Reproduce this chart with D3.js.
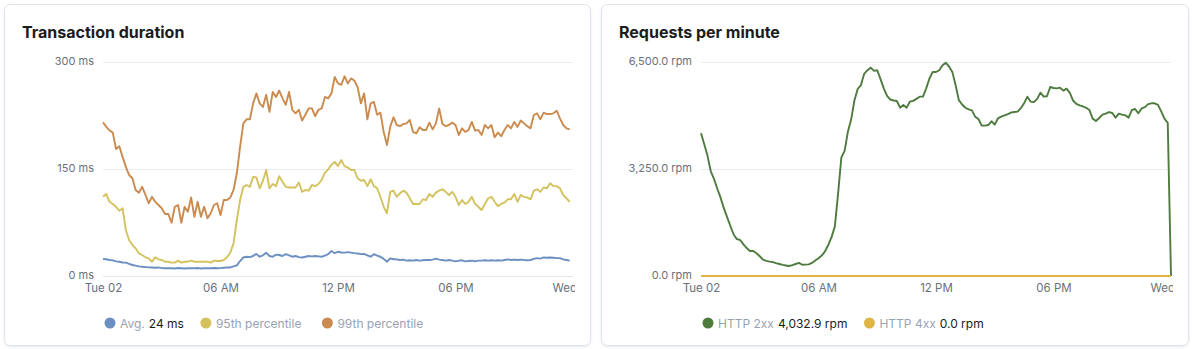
<!DOCTYPE html>
<html><head><meta charset="utf-8">
<script src="https://cdn.jsdelivr.net/npm/d3@7"></script>
<style>
html,body{margin:0;padding:0;background:#fff;}
svg{display:block;font-family:Inter,"Noto Sans",sans-serif;}
</style></head><body>
<svg id="c" width="1200" height="349"></svg>
<script>
// ---------- data ----------
const startTime = new Date(2020, 5, 2, 0, 0, 0);   // Tue 02
const endTime = new Date(2020, 5, 3, 0, 0, 0);     // Wed 03
const bucketMinutes = 10;
const xTickLabels = ["Tue 02", "06 AM", "12 PM", "06 PM", "Wed 03"];

const durationTicks = [0, 150, 300];
const durationTickLabels = ["0 ms", "150 ms", "300 ms"];
const rpmTicks = [0, 3250, 6500];
const rpmTickLabels = ["0.0 rpm", "3,250.0 rpm", "6,500.0 rpm"];

const durationSeriesNames = ["Avg.", "95th percentile", "99th percentile"];
const durationSeriesValues = ["24 ms", "", ""];
const rpmSeriesNames = ["HTTP 2xx", "HTTP 4xx"];
const rpmSeriesValues = ["4,032.9 rpm", "0.0 rpm"];

const avgMs = [23.8,23.5,22.4,22,20.5,20,19,18.7,17,15.4,14.5,13.5,13,12.5,12.1,12,11.5,12,11,10.8,11,
10.8,10.5,11.2,10.8,10.5,11,10.8,10.8,11.2,10.5,11,10.8,10.8,11.2,10.8,11,11.5,12,12,13.5,
15,21,26,27,26.5,28,31,27,29,32.5,28,27,30,29.4,28,30.6,29,27,28,26.5,26,27,28,27.5,28,
27.5,27,28.5,30.6,35,32,34,33,32.7,33.5,32.7,32,31.5,30.6,31,29,27,30.6,28.5,27,
24,20,24.8,23.5,23.4,22.4,23,21.5,22,21.5,22.4,21.5,22,22.4,22.4,23,24.3,23,22.4,21.5,
22.4,21.5,20.5,21.5,22,20.5,21,21.5,20.5,21.5,21.5,22,21.5,22,21.5,22,21.5,22.4,23.4,22.4,
23,22.4,23,22.4,22,22.4,24,25,24.3,26,25.5,26,25.5,25,25,23.4,22.5,21.5];

const p95Ms = [111,115,104,101,97,91.5,95,64.5,50.5,43.5,38.8,31.8,29.4,26.2,24.8,20,26.2,23.4,22.4,20,
20,18.7,18.7,21.5,18.7,20,20,21.5,20,20,20,20,20,18.7,21.5,21,21,22.4,26.2,32.7,
45.8,78.5,106.5,125,127.6,125,139,138.3,123,133.6,148.6,123,129,126,140,132,125,124,124,124,
131,118,120.6,119.6,127.6,126,129,134.6,144.8,149.5,
156,160,154,162.6,154,152,148.6,148.6,137,133.6,134.6,126,135.6,126,123,111,97,88,118,119.6,
111,116,119.6,116.8,109,101,101,101,107.5,106.5,115,111,116.8,119.6,121.6,118,113.6,118,111,99.5,
106.5,101,104,111,101,97,92.5,101,109,111,104,98,101,102.8,107.5,107.5,115,104,113.6,111,
110,107.5,119.6,121.6,118,124,123,130,126,126,123,113.6,109,104];

const p99Ms = [215.5,209,204,201,178,182,167,153,141.6,137,120.6,116.8,125,113.6,102,111,104,99.5,95,87,
87,74.7,97,99.5,74.7,97,90,110,83,104,83,97,81,88,99.5,102,85.5,106.5,106.5,110,
120.6,144,181,214,219.7,219.7,242,256,242,237,254,230,258,251,260,249,240,258,233,228,
233,218,226,235,235,224,233,235,251,249,
256,279,270,268,280,270,277,274,265,242,256,219.7,242,244,226,229,202,183.6,209,222.5,
211.7,210,213,214,218.7,202,200,208.5,204.7,204.7,215,205.6,214,235,213,210,211.7,215,211.7,197.7,
207,202,204.7,216,203.7,204.7,197.7,211.7,207,211.7,194.4,201,196,204.7,211.7,207,216,209,218,214,
210,207,225.7,228,219.7,229,227,227,228,231.7,221,211.7,207,205.6];

const http2xx = [4334,4000,3650,3180,2946,2650,2380,2060,1790,1520,1260,1120,1094,960,850,759,759,690,600,495,
460,437,420,390,365,338,320,304,330,365,400,340,345,354,395,470,540,620,750,942,
1180,1500,2500,3600,3800,4380,4750,5330,5680,5800,6140,6250,6328,6230,6250,5980,5700,5470,5360,5330,
5316,5113,5194,5113,5295,5320,5380,5447,5447,5700,6000,6200,6195,6250,6400,6480,6360,6200,5800,5340,
5210,5110,5060,5030,4840,4769,4566,4566,4586,4700,4600,4790,4840,4880,4920,4965,4980,4992,5100,5250,
5447,5295,5280,5380,5570,5447,5460,5740,5710,5700,5720,5630,5690,5560,5330,5230,5180,5150,5110,5040,
4780,4710,4800,4900,4930,4980,4950,4810,4930,4900,4880,4810,5042,5072,4941,5090,5130,5220,5245,5245,
5200,5000,4780,4650,0];

const http4xx = [0,0,0,0,0,0,0,0,0,0,0,0,0,0,0,0,0,0,0,0,
0,0,0,0,0,0,0,0,0,0,0,0,0,0,0,0,0,0,0,0,
0,0,0,0,0,0,0,0,0,0,0,0,0,0,0,0,0,0,0,0,
0,0,0,0,0,0,0,0,0,0,0,0,0,0,0,0,0,0,0,0,
0,0,0,0,0,0,0,0,0,0,0,0,0,0,0,0,0,0,0,0,
0,0,0,0,0,0,0,0,0,0,0,0,0,0,0,0,0,0,0,0,
0,0,0,0,0,0,0,0,0,0,0,0,0,0,0,0,0,0,0,0,
0,0,0,0,0];

// ---------- styles ----------
const C = {
  avg: "#6a8fc0", p95: "#d3c25e", p99: "#cc8b4e",
  s2xx: "#4e7b3e", s4xx: "#dfb545",
  grid: "#e9ecf1", tick: "#69707d", legendName: "#98a2b3", legendVal: "#1a1c21",
  title: "#1a1c21"
};

const svg = d3.select("#c");
const defs = svg.append("defs");
const f = defs.append("filter").attr("id", "sh").attr("x", "-5%").attr("y", "-5%").attr("width", "110%").attr("height", "115%");
f.append("feDropShadow").attr("dx", 0).attr("dy", 1).attr("stdDeviation", 1).attr("flood-color", "#98a2b3").attr("flood-opacity", 0.25);

function toTime(i) { return d3.timeMinute.offset(startTime, i * bucketMinutes); }

function panel(opts) {
  const g = svg.append("g");
  g.append("rect").attr("x", opts.cardX + 0.5).attr("y", 4.5).attr("width", opts.cardW).attr("height", 341)
    .attr("rx", 6).attr("fill", "#fff").attr("stroke", "#dfe4ec").attr("filter", "url(#sh)");
  g.append("text").attr("x", opts.cardX + 18).attr("y", 38).text(opts.title)
    .attr("font-size", 16).attr("font-weight", 700).attr("fill", C.title);

  const x = d3.scaleTime().domain([startTime, endTime]).range([opts.plotX0, opts.plotX1]);
  const y = d3.scaleLinear().domain(opts.yDomain).range([276, 62]);

  // grid
  g.append("g").selectAll("line").data(opts.yTicks).join("line")
    .attr("x1", opts.plotX0).attr("x2", opts.plotX1)
    .attr("y1", d => Math.round(y(d)) + 0.5).attr("y2", d => Math.round(y(d)) + 0.5)
    .attr("stroke", (d, i) => i === 0 ? "#e3e7ed" : C.grid).attr("stroke-width", 1.2);

  // y axis labels
  const ya = g.append("g").attr("transform", `translate(${opts.plotX0 - 9},-1)`)
    .call(d3.axisLeft(y).tickValues(opts.yTicks).tickSize(0).tickPadding(0)
      .tickFormat((d, i) => opts.yLabels[i]));
  ya.select(".domain").remove();
  ya.selectAll("text").attr("font-size", 11).attr("fill", C.tick).attr("font-family", "Inter");

  // x axis
  const clipId = "clip" + opts.cardX;
  defs.append("clipPath").attr("id", clipId).append("rect")
    .attr("x", opts.plotX0 - 40).attr("y", 280).attr("width", opts.plotX1 - opts.plotX0 + 42).attr("height", 30);
  const tickVals = d3.timeHour.every(6).range(startTime, d3.timeMinute.offset(endTime, 1));
  const xa = g.append("g").attr("clip-path", `url(#${clipId})`).append("g").attr("transform", "translate(0,284)")
    .call(d3.axisBottom(x).tickValues(tickVals).tickSize(0).tickPadding(0)
      .tickFormat((d, i) => xTickLabels[i]));
  xa.select(".domain").remove();
  xa.selectAll("text").attr("font-size", 11.5).attr("fill", C.tick).attr("font-family", "Inter");

  // lines
  const line = d3.line().x((d, i) => x(toTime(i))).y(d => y(d)).curve(d3.curveLinear);
  opts.series.forEach(s => {
    g.append("path").datum(s.values).attr("d", line).attr("fill", "none")
      .attr("stroke", s.color).attr("stroke-width", 1.9).attr("stroke-linejoin", "round");
  });

  // legend
  const lg = g.append("g").attr("transform", "translate(0,323)");
  let cx = opts.plotX0 + 7;
  opts.legend.forEach(item => {
    lg.append("circle").attr("cx", cx).attr("cy", 0).attr("r", 5.5).attr("fill", item.color);
    const t = lg.append("text").attr("x", cx + 10).attr("y", 4.5).attr("font-size", 12);
    t.append("tspan").attr("fill", C.legendName).text(item.name);
    if (item.value) t.append("tspan").attr("fill", C.legendVal).attr("dx", 4).text(item.value);
    const w = t.node().getComputedTextLength();
    cx = cx + 10 + w + 26;
  });
}

panel({
  cardX: 4, cardW: 586, title: "Transaction duration",
  plotX0: 103, plotX1: 573, yDomain: [0, 300], yTicks: durationTicks, yLabels: durationTickLabels,
  series: [
    { values: avgMs, color: C.avg },
    { values: p95Ms, color: C.p95 },
    { values: p99Ms, color: C.p99 }
  ],
  legend: [
    { name: durationSeriesNames[0], value: durationSeriesValues[0], color: C.avg },
    { name: durationSeriesNames[1], value: durationSeriesValues[1], color: C.p95 },
    { name: durationSeriesNames[2], value: durationSeriesValues[2], color: C.p99 }
  ]
});

panel({
  cardX: 601, cardW: 587, title: "Requests per minute",
  plotX0: 701, plotX1: 1171, yDomain: [0, 6500], yTicks: rpmTicks, yLabels: rpmTickLabels,
  series: [
    { values: http2xx, color: C.s2xx },
    { values: http4xx, color: C.s4xx }
  ],
  legend: [
    { name: rpmSeriesNames[0], value: rpmSeriesValues[0], color: C.s2xx },
    { name: rpmSeriesNames[1], value: rpmSeriesValues[1], color: C.s4xx }
  ]
});
</script>
</body></html>
